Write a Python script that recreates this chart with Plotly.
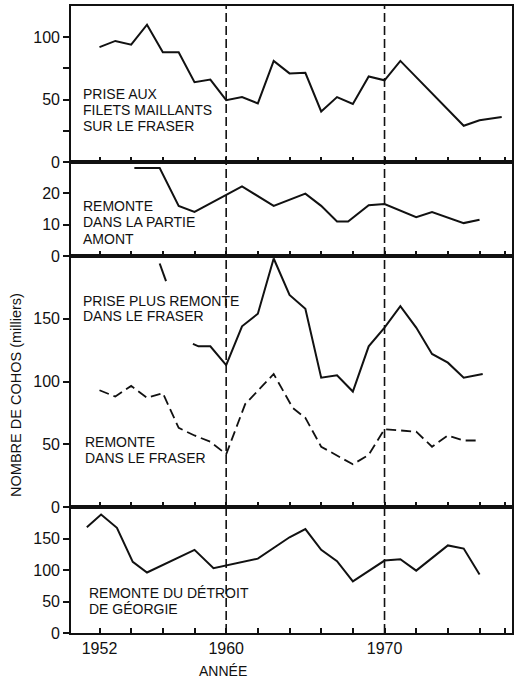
import plotly.graph_objects as go

# ---------------- data ----------------
# Panel 1: Prise aux filets maillants sur le Fraser
p1_years = [1952, 1953, 1954, 1955, 1956, 1957, 1958, 1959, 1960, 1961, 1962, 1963,
            1964, 1965, 1966, 1967, 1968, 1969, 1970, 1971, 1975, 1976, 1977.4]
p1_vals = [92, 97, 94, 110, 88, 88, 64, 66, 49.5, 52, 47, 81,
           71, 71.5, 40.5, 52, 46.5, 68.5, 65.5, 81, 29, 33.5, 36]

# Panel 2: Remonte dans la partie amont
p2_years = [1954.2, 1955.8, 1957, 1958, 1961, 1963, 1965, 1966, 1967, 1967.7,
            1969, 1970, 1972, 1973, 1975, 1976]
p2_vals = [28.1, 28.1, 16, 14.1, 22.2, 16, 19.9, 16, 11, 11,
           16.2, 16.6, 12.4, 14, 10.5, 11.6]

# Panel 3: Prise plus remonte dans le Fraser (solid; isolated fragment then main run)
p3a_years = [1955.8, 1956.2, None, 1957.9, 1958.25, 1959, 1960, 1961, 1962, 1963, 1964,
             1965, 1966, 1967, 1968, 1969, 1970, 1971, 1972, 1973, 1974, 1975, 1976.2]
p3a_vals = [194, 180, None, 130, 128, 128, 113, 144, 154, 198, 169,
            158, 103, 105, 92, 128, 143, 160, 143, 122, 115, 103, 106]

# Panel 3: Remonte dans le Fraser (dashed)
p3b_years = [1952, 1953, 1954, 1955, 1956, 1957, 1958, 1959, 1960, 1961.2, 1963,
             1964.2, 1965, 1966, 1968, 1969, 1970, 1971, 1972, 1973, 1974, 1975, 1976]
p3b_vals = [93, 88, 96.5, 87, 90.7, 63, 57, 52, 42, 82, 106,
            79, 71, 48, 34, 41.5, 62, 61, 60, 48, 57, 53, 53]

# Panel 4: Remonte du détroit de Géorgie
p4_years = [1951.2, 1952.1, 1953.1, 1954.1, 1955, 1958, 1959.2, 1962, 1964, 1965,
            1966, 1967, 1968, 1970, 1971, 1972, 1974, 1975, 1976]
p4_vals = [168, 188, 167, 113, 96, 132, 103, 118, 152, 165,
           132, 114, 82, 115, 117, 99, 139, 134, 93]

x_tickvals = [1952, 1954, 1956, 1958, 1960, 1962, 1964, 1966, 1968, 1970, 1972, 1974, 1976, 1977.6]
x_ticktext = ["1952", "", "", "", "1960", "", "", "", "", "1970", "", "", "", ""]

y1_tickvals = [0, 25, 50, 75, 100]
y1_ticktext = ["0", "", "50", "", "100"]
y2_tickvals = [0, 10, 20]
y3_tickvals = [0, 50, 100, 150]
y4_tickvals = [0, 50, 100, 150]

ref_years = [1960, 1970]

labels = [
    # (text, x_year, y_value, axis)
    ("PRISE AUX", 1950.9, 54.1, 1),
    ("FILETS MAILLANTS", 1950.9, 41.4, 1),
    ("SUR LE FRASER", 1950.9, 28.7, 1),
    ("REMONTE", 1950.9, 16, 2),
    ("DANS LA PARTIE", 1950.9, 10.8, 2),
    ("AMONT", 1950.9, 5.4, 2),
    ("PRISE PLUS REMONTE", 1950.9, 164.5, 3),
    ("DANS LE FRASER", 1950.9, 151.8, 3),
    ("REMONTE", 1951.0, 51.5, 3),
    ("DANS LE FRASER", 1951.0, 38.8, 3),
    ("REMONTE DU DÉTROIT", 1951.3, 64, 4),
    ("DE GÉORGIE", 1951.3, 38.3, 4),
]

# ---------------- figure ----------------
FONT = "Liberation Sans, Arial, Helvetica, sans-serif"
BLACK = "#111111"

fig = go.Figure()
line_solid = dict(color=BLACK, width=2)
fig.add_trace(go.Scatter(x=p1_years, y=p1_vals, mode="lines", line=line_solid, xaxis="x", yaxis="y"))
fig.add_trace(go.Scatter(x=p2_years, y=p2_vals, mode="lines", line=line_solid, xaxis="x2", yaxis="y2"))
fig.add_trace(go.Scatter(x=p3a_years, y=p3a_vals, mode="lines", line=line_solid, xaxis="x3", yaxis="y3",
                         connectgaps=False))
fig.add_trace(go.Scatter(x=p3b_years, y=p3b_vals, mode="lines",
                         line=dict(color=BLACK, width=1.8, dash="10px,5px"), xaxis="x3", yaxis="y3"))
fig.add_trace(go.Scatter(x=p4_years, y=p4_vals, mode="lines", line=line_solid, xaxis="x4", yaxis="y4"))

H = 627.0
bounds = [6, 162, 256, 507, 633]  # pixel tops/bottoms of panels
doms = []
for i in range(4):
    top, bot = bounds[i], bounds[i + 1]
    doms.append([(633 - bot) / H, (633 - top) / H])

yranges = [[0, 125], [0, 30], [0, 200], [0, 200]]
ytv = [y1_tickvals, y2_tickvals, y3_tickvals, y4_tickvals]
ytt = [y1_ticktext, [str(v) for v in y2_tickvals], [str(v) for v in y3_tickvals], [str(v) for v in y4_tickvals]]

layout = dict(
    width=520, height=679,
    margin=dict(l=71, r=8, t=6, b=46),
    paper_bgcolor="white", plot_bgcolor="white",
    showlegend=False,
    font=dict(family=FONT, color=BLACK),
)
for i in range(4):
    n = "" if i == 0 else str(i + 1)
    layout["xaxis" + n] = dict(
        domain=[0, 1], range=[1950.2, 1978.05], anchor="y" + n,
        showline=True, mirror=True, linecolor=BLACK, linewidth=1.6,
        ticks="inside", ticklen=5, tickwidth=1.5, tickcolor=BLACK,
        tickvals=x_tickvals, ticktext=x_ticktext,
        showticklabels=(i == 3), tickfont=dict(size=16, family=FONT, color=BLACK),
        ticklabelstandoff=0, automargin=False,
        showgrid=False, zeroline=False,
    )
    if i != 0:
        layout["xaxis" + n]["matches"] = "x"
    layout["yaxis" + n] = dict(
        domain=doms[i], range=yranges[i], anchor="x" + n,
        showline=True, mirror=True, linecolor=BLACK, linewidth=1.6,
        ticks="outside", ticklen=6, tickwidth=1.5, tickcolor=BLACK,
        tickvals=ytv[i], ticktext=ytt[i], automargin=False,
        tickfont=dict(size=16, family=FONT, color=BLACK),
        showgrid=False, zeroline=False,
    )
fig.update_layout(**layout)

# reference dashed verticals across all panels
for yr in ref_years:
    fig.add_shape(type="line", xref="x4", yref="paper", x0=yr, x1=yr, y0=0, y1=1,
                  line=dict(color=BLACK, width=1.6, dash="9px,4px"))

for text, xv, yv, ax in labels:
    n = "" if ax == 1 else str(ax)
    fig.add_annotation(text=text, x=xv, y=yv, xref="x" + n, yref="y" + n,
                       xanchor="left", yanchor="middle", showarrow=False, borderpad=0,
                       font=dict(size=14, family=FONT, color=BLACK))

fig.add_annotation(text="ANNÉE", xref="paper", yref="paper",
                   x=(223 - 71) / 441.0, xanchor="center", y=(633 - 671) / H, yanchor="middle",
                   showarrow=False, font=dict(size=14, family=FONT, color=BLACK))

fig.add_annotation(text="NOMBRE DE COHOS (milliers)", xref="paper", yref="paper",
                   x=-0.125, xanchor="center", y=(633 - 395) / H, yanchor="middle",
                   textangle=-90, showarrow=False,
                   font=dict(size=14.5, family=FONT, color=BLACK))

fig.write_html("out.html")
